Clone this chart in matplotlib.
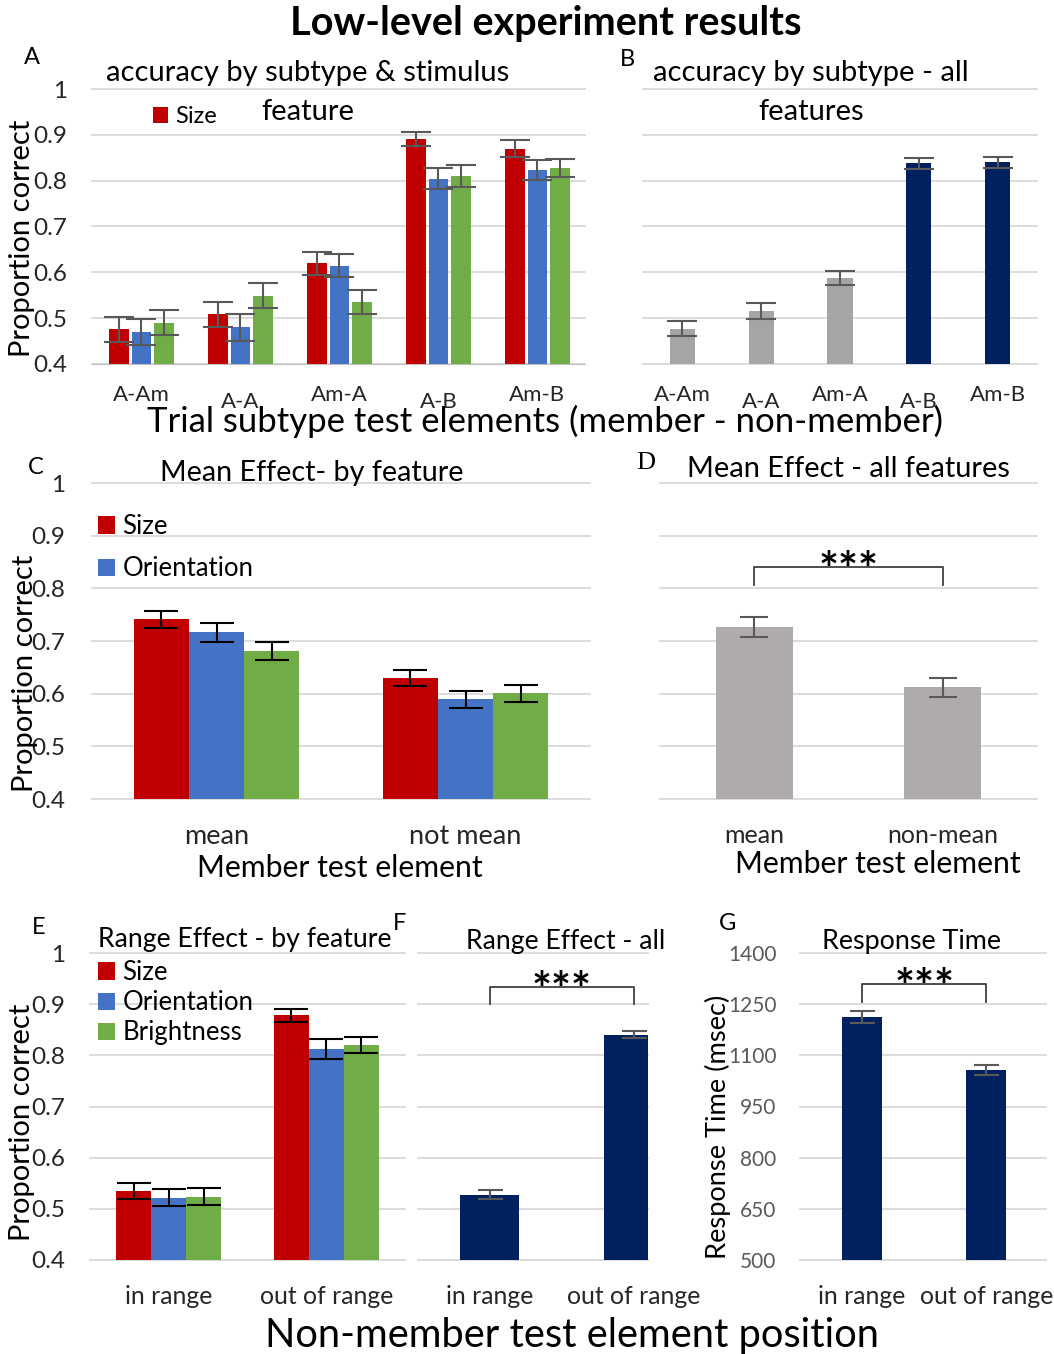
import matplotlib
matplotlib.use('Agg')
import matplotlib.pyplot as plt
import numpy as np

# ---- data ----
subtypes = ['A-Am', 'A-A', 'Am-A', 'A-B', 'Am-B']
features = ['Size', 'Orientation', 'Brightness']
acc_size = [0.476, 0.508, 0.620, 0.891, 0.870]
acc_orient = [0.470, 0.480, 0.614, 0.804, 0.823]
acc_bright = [0.490, 0.549, 0.535, 0.810, 0.828]
acc_size_err = [0.027, 0.028, 0.025, 0.016, 0.018]
acc_orient_err = [0.028, 0.030, 0.025, 0.023, 0.022]
acc_bright_err = [0.027, 0.027, 0.027, 0.024, 0.020]
acc_all = [0.477, 0.515, 0.588, 0.838, 0.840]
acc_all_err = [0.017, 0.017, 0.015, 0.012, 0.012]

mean_labels = ['mean', 'not mean']
mean_size = [0.741, 0.629]
mean_orient = [0.717, 0.589]
mean_bright = [0.681, 0.601]
mean_size_err = [0.016, 0.015]
mean_orient_err = [0.018, 0.016]
mean_bright_err = [0.018, 0.016]
mean_all_labels = ['mean', 'non-mean']
mean_all = [0.727, 0.612]
mean_all_err = [0.019, 0.018]

range_labels = ['in range', 'out of range']
range_size = [0.535, 0.878]
range_orient = [0.522, 0.812]
range_bright = [0.524, 0.820]
range_size_err = [0.015, 0.012]
range_orient_err = [0.017, 0.019]
range_bright_err = [0.016, 0.016]
range_all = [0.528, 0.840]
range_all_err = [0.008, 0.007]
rt = [1212, 1058]
rt_err = [17, 15]

prop_ticks = [0.4, 0.5, 0.6, 0.7, 0.8, 0.9, 1.0]
rt_ticks = [500, 650, 800, 950, 1100, 1250, 1400]

RED, BLUE, GREEN = '#C00000', '#4472C4', '#70AD47'
NAVY, GREY_B, GREY_D = '#002060', '#A5A5A5', '#AFABAB'
feat_colors = [RED, BLUE, GREEN]

W, H = 1054, 1354
plt.rcParams['font.family'] = ['Lato', 'DejaVu Sans']
fig = plt.figure(figsize=(W / 100, H / 100), dpi=100)


def px_axes(x0, y0, x1, y1):
    return fig.add_axes([x0 / W, 1 - y1 / H, (x1 - x0) / W, (y1 - y0) / H])


def ftext(x, y, s, **kw):
    return fig.text(x / W, 1 - y / H, s, **kw)


def style(ax, ticks, labels=True, color='#262626', pad=18, fs=17.5):
    ax.set_ylim(ticks[0], ticks[-1])
    ax.set_yticks(ticks)
    ax.grid(axis='y', color='#D9D9D9', lw=1.3)
    ax.set_axisbelow(True)
    for ln in ax.get_ygridlines():
        ln.set_clip_on(False)
    for s in ax.spines.values():
        s.set_visible(False)
    ax.tick_params(length=0, pad=pad)
    if labels:
        ax.set_yticklabels([f'{v:g}' for v in ticks], fontsize=fs, color=color)
    else:
        ax.set_yticklabels([])


def grouped(ax, series, errs, width, step, ecolor, capsize):
    x = np.arange(len(series[0]))
    bars = []
    for k, (vals, e) in enumerate(zip(series, errs)):
        b = ax.bar(x + (k - 1) * step, vals, width, color=feat_colors[k],
                   yerr=e, capsize=capsize,
                   error_kw=dict(ecolor=ecolor, elinewidth=1.5, capthick=1.5))
        bars.append(b)
    return bars


def bracket(ax, x0, x1, top, leg, px):
    # px: size of one pixel in data units, used to seat the stars on the bracket
    ax.plot([x0, x0, x1, x1], [top - leg, top, top, top - leg],
            color='#404040', lw=1.3, clip_on=False)
    ax.text((x0 + x1) / 2, top - 5 * px, '***', ha='center', va='center',
            fontsize=34, fontweight='bold', clip_on=False)


# ---- title ----
ftext(546, 23, 'Low-level experiment results', ha='center', va='center',
      fontsize=28.5, fontweight='bold')

# ---- A ----
axA = px_axes(92, 89, 585, 364)
barsA = grouped(axA, [acc_size, acc_orient, acc_bright],
                [acc_size_err, acc_orient_err, acc_bright_err],
                0.2, 0.225, '#595959', 11)
axA.set_xlim(-0.5, 4.48)
style(axA, prop_ticks, pad=18)
axA.spines['bottom'].set_visible(True)
axA.spines['bottom'].set_color('#BFBFBF')
axA.set_xticks([])
for i, lab in enumerate(subtypes):
    axA.text(i, -0.113 - 0.026 * (i % 2), lab, transform=axA.get_xaxis_transform(),
             ha='center', va='center', fontsize=16, color='#262626')
axA.legend(handles=[barsA[0]], labels=['Size'], loc='upper left',
           bbox_to_anchor=(153 / W, 1 - 106 / H), bbox_transform=fig.transFigure,
           frameon=False, fontsize=17, handlelength=0.65, handleheight=0.65,
           handletextpad=0.3, borderpad=0, borderaxespad=0)
ftext(308, 73, 'accuracy by subtype & stimulus', ha='center', va='center', fontsize=21)
ftext(308, 112, 'feature', ha='center', va='center', fontsize=21)

# ---- B ----
axB = px_axes(643, 89, 1037, 364)
xb = np.arange(len(acc_all))
axB.bar(xb, acc_all, 0.32, color=[GREY_B] * 3 + [NAVY] * 2, yerr=acc_all_err,
        capsize=11, error_kw=dict(ecolor='#595959', elinewidth=1.5, capthick=1.5))
axB.set_xlim(-0.5, 4.5)
style(axB, prop_ticks, labels=False)
axB.set_xticks([])
for i, lab in enumerate(subtypes):
    axB.text(i, -0.113 - 0.026 * (i % 2), lab, transform=axB.get_xaxis_transform(),
             ha='center', va='center', fontsize=16, color='#262626')
ftext(811, 73, 'accuracy by subtype - all', ha='center', va='center', fontsize=21)
ftext(811, 112, 'features', ha='center', va='center', fontsize=21)

ftext(545, 421, 'Trial subtype test elements (member - non-member)',
      ha='center', va='center', fontsize=25)
ftext(22, 238, 'Proportion correct', rotation=90, ha='center', va='center', fontsize=21)

# ---- C ----
axC = px_axes(92, 483, 590, 799)
barsC = grouped(axC, [mean_size, mean_orient, mean_bright],
                [mean_size_err, mean_orient_err, mean_bright_err],
                0.22, 0.222, 'black', 12)
axC.set_xlim(-0.5, 1.5)
style(axC, prop_ticks, pad=19)
axC.set_xticks(range(len(mean_labels)))
axC.set_xticklabels(mean_labels, fontsize=19.5, color='#262626')
axC.tick_params(axis='x', pad=18)
axC.legend(handles=barsC[:2], labels=features[:2], loc='upper left',
           bbox_to_anchor=(98 / W, 1 - 514 / H), bbox_transform=fig.transFigure,
           frameon=False, fontsize=18.5, handlelength=0.65, handleheight=0.65,
           handletextpad=0.3, borderpad=0, borderaxespad=0, labelspacing=0.68)
ftext(312, 473, 'Mean Effect- by feature', ha='center', va='center', fontsize=20.7)
ftext(340, 868, 'Member test element', ha='center', va='center', fontsize=21.7)
ftext(25, 673, 'Proportion correct', rotation=90, ha='center', va='center', fontsize=21)

# ---- D ----
axD = px_axes(660, 483, 1037, 799)
xd = np.arange(len(mean_all))
axD.bar(xd, mean_all, 0.41, color=GREY_D, yerr=mean_all_err, capsize=10,
        error_kw=dict(ecolor='#595959', elinewidth=1.5, capthick=1.5))
axD.set_xlim(-0.5, 1.5)
style(axD, prop_ticks, labels=False)
axD.set_xticks(xd)
axD.set_xticklabels(mean_all_labels, fontsize=18, color='#262626')
axD.tick_params(axis='x', pad=18)
bracket(axD, xd[0], xd[1], max(mean_all) + 0.113, 0.034, 0.1 / 52.7)
ftext(848, 469, 'Mean Effect - all features', ha='center', va='center', fontsize=20.9)
ftext(878, 864, 'Member test element', ha='center', va='center', fontsize=21.7)

# ---- E ----
axE = px_axes(90, 953, 405, 1260)
barsE = grouped(axE, [range_size, range_orient, range_bright],
                [range_size_err, range_orient_err, range_bright_err],
                0.22, 0.222, 'black', 12)
axE.set_xlim(-0.5, 1.5)
style(axE, prop_ticks, pad=18)
axE.set_xticks(range(len(range_labels)))
axE.set_xticklabels(range_labels, fontsize=17.8, color='#262626')
axE.tick_params(axis='x', pad=18)
axE.legend(handles=barsE, labels=features, loc='upper left',
           bbox_to_anchor=(98 / W, 1 - 960 / H), bbox_transform=fig.transFigure,
           frameon=False, fontsize=18.5, handlelength=0.65, handleheight=0.65,
           handletextpad=0.3, borderpad=0, borderaxespad=0, labelspacing=0.2)
ftext(245, 940, 'Range Effect - by feature', ha='center', va='center', fontsize=19.2)
ftext(22, 1122, 'Proportion correct', rotation=90, ha='center', va='center', fontsize=21)

# ---- F ----
axF = px_axes(418, 953, 648, 1260)
xf = np.arange(len(range_all))
axF.bar(xf, range_all, 0.41, color=NAVY, yerr=range_all_err, capsize=9,
        error_kw=dict(ecolor='#595959', elinewidth=1.5, capthick=1.5))
axF.set_xlim(-0.5, 1.1)
style(axF, prop_ticks, labels=False)
axF.set_xticks(xf)
axF.set_xticklabels(range_labels, fontsize=17.8, color='#262626')
axF.tick_params(axis='x', pad=18)
bracket(axF, xf[0], xf[1], max(range_all) + 0.094, 0.034, 0.1 / 51.2)
ftext(566, 941, 'Range Effect - all', ha='center', va='center', fontsize=19.2)

# ---- G ----
axG = px_axes(800, 953, 1046, 1260)
xg = np.arange(len(rt))
axG.bar(xg, rt, 0.32, color=NAVY, yerr=rt_err, capsize=9,
        error_kw=dict(ecolor='#595959', elinewidth=1.5, capthick=1.5))
axG.set_xlim(-0.5, 1.48)
style(axG, rt_ticks, color='#595959', pad=17, fs=15)
axG.set_xticks(xg)
axG.set_xticklabels(range_labels, fontsize=17.8, color='#262626')
axG.tick_params(axis='x', pad=18)
bracket(axG, xg[0], xg[1], max(rt) + 97, 53, 900 / 307)
ftext(911, 941, 'Response Time', ha='center', va='center', fontsize=19.4)
ftext(718, 1127, 'Response Time (msec)', rotation=90, ha='center', va='center', fontsize=19.6)

ftext(572, 1335, 'Non-member test element position', ha='center', va='center', fontsize=28.7)

# ---- panel letters ----
for lab, x, y in [('A', 32, 57), ('B', 627, 59), ('C', 36, 467), ('E', 39, 928),
                  ('F', 400, 923), ('G', 728, 923)]:
    ftext(x, y, lab, ha='center', va='center', fontsize=17)
ftext(646, 463, 'D', ha='center', va='center', fontsize=19, family='Liberation Serif')

fig.savefig('out.png', dpi=100)
